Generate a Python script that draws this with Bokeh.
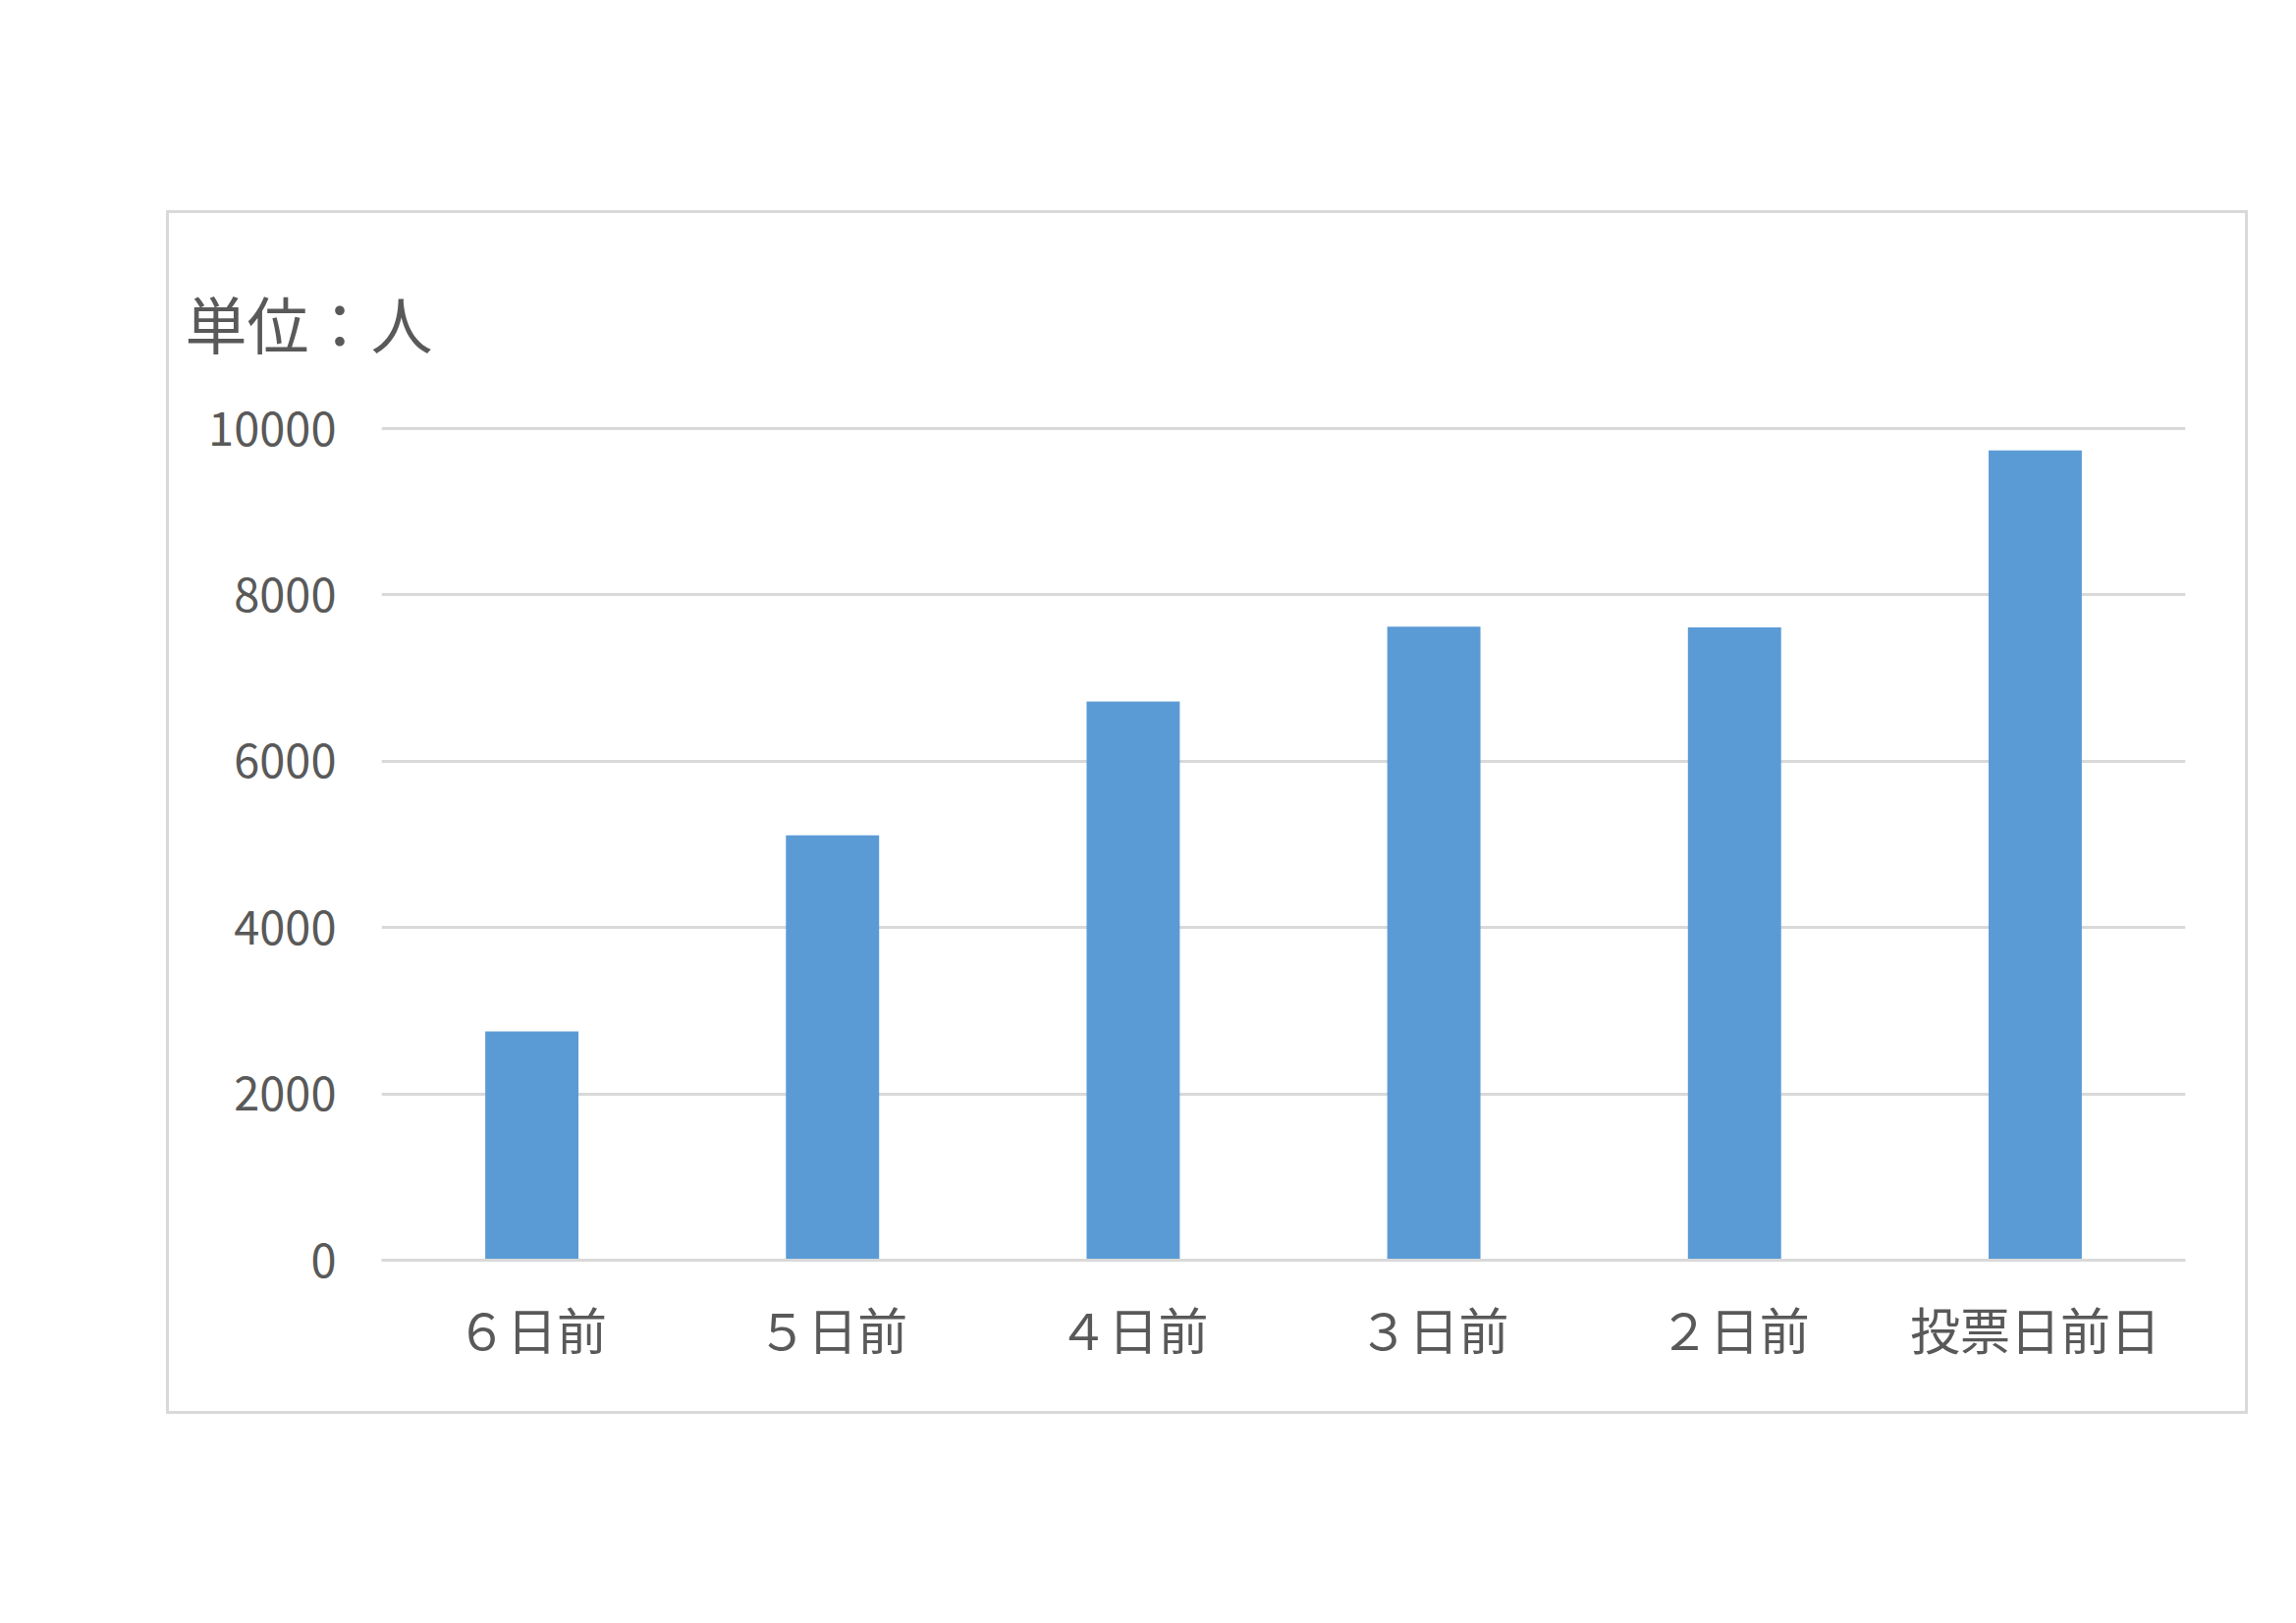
#
# Bar chart: 期日前投票者数 (unit: people)
#
from bokeh.plotting import figure
from bokeh.models import Range1d, SingleIntervalTicker
from bokeh.embed import file_html
from bokeh.resources import INLINE

# Categories and values
days = ['６日前', '５日前', '４日前', '３日前', '２日前', '投票日前日']
voters = [2750, 5110, 6720, 7620, 7610, 9740]
y_ticks_step = 2000
y_max = 10000
unit_text = "単位：人"

font = "Noto Sans CJK JP"
grey_text = "#595959"
grid_grey = "#D9D9D9"

p = figure(x_range=days, y_range=Range1d(0, y_max + 25),
           width=2120, height=1226,
           output_backend="svg", toolbar_location=None,
           title=unit_text,
           min_border_left=216, min_border_right=67,
           min_border_top=217, min_border_bottom=160,
           margin=(214, 0, 0, 169),
           styles={"border": "3px solid " + grid_grey})

p.vbar(x=days, top=voters, width=0.31, color="#5B9BD5", line_color=None)

# Unit note in the upper left corner
p.title.text_font = font
p.title.text_font_size = "63px"
p.title.text_font_style = "normal"
p.title.text_color = grey_text
p.title.align = "left"
p.title.offset = -200
p.title.standoff = 124

p.background_fill_color = "white"
p.border_fill_color = "white"
p.outline_line_color = None

# Y axis: no line, no ticks, just the numbers
p.yaxis.ticker = SingleIntervalTicker(interval=y_ticks_step)
p.yaxis.axis_line_color = None
p.yaxis.major_tick_line_color = None
p.yaxis.minor_tick_line_color = None
p.yaxis.major_label_standoff = 40
p.yaxis.major_label_text_font = font
p.yaxis.major_label_text_font_size = "47px"
p.yaxis.major_label_text_color = grey_text

# X axis: the grey base line
p.xaxis.axis_line_color = grid_grey
p.xaxis.axis_line_width = 3
p.xaxis.major_tick_line_color = None
p.xaxis.minor_tick_line_color = None
p.xaxis.major_label_standoff = 26
p.xaxis.major_label_text_font = font
p.xaxis.major_label_text_font_size = "51px"
p.xaxis.major_label_text_color = grey_text

p.xgrid.grid_line_color = None
p.ygrid.grid_line_color = grid_grey
p.ygrid.grid_line_width = 3

open("out.html", "w").write(file_html(p, INLINE))
